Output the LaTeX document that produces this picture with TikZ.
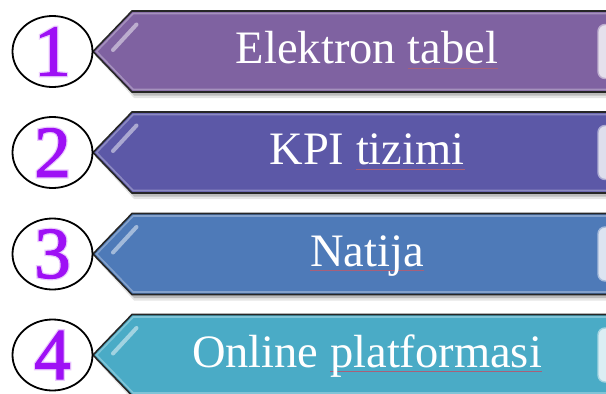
\documentclass[tikz,border=0pt]{standalone}
\usepackage{fontspec}
\setmainfont{Liberation Serif}
\newfontfamily\numfont[FakeBold=1.6]{Liberation Serif}
\newfontfamily\numglowfont[FakeBold=5]{Liberation Serif}
\usetikzlibrary{shapes.geometric}
\definecolor{bandA}{HTML}{7F62A1}
\definecolor{bandB}{HTML}{5C58A7}
\definecolor{bandC}{HTML}{4E7AB8}
\definecolor{bandD}{HTML}{4AABC6}
\definecolor{numc}{HTML}{9E10F5}
\definecolor{spellc}{HTML}{A8607A}
\newcommand\spellmark[1]{\setbox0\hbox{#1}\rlap{\color{spellc}\rule[-5pt]{\wd0}{0.9pt}}\box0}
\tikzset{
  numcirc/.style={ellipse, draw=black, line width=1.8pt, fill=white,
    minimum width=80pt, minimum height=71pt, inner sep=0pt},
  numtext/.style={text=numc, font=\numfont\fontsize{73}{73}\selectfont, inner sep=0pt},
  numglow/.style={text=numc!22!white, font=\numglowfont\fontsize{73}{73}\selectfont, inner sep=0pt},
  bantext/.style={text=white, font=\fontsize{46.5}{50}\selectfont, anchor=base, inner sep=0pt},
}
\begin{document}
\begin{tikzpicture}[x=1pt,y=-1pt]
\useasboundingbox (0,0) rectangle (606,394);
\clip (0,0) rectangle (606,394);
\fill[white] (0,0) rectangle (606,394);
\foreach \c/\col/\i/\txt in {51.5/bandA/1/{Elektron \spellmark{tabel}},
                             152.5/bandB/2/{KPI \spellmark{tizimi}},
                             254/bandC/3/{\spellmark{Natija}},
                             355/bandD/4/{Online \spellmark{platformasi}}}{
  % shadow
  \fill[black, opacity=0.10] (96,\c+5) -- (134,\c-36) -- (640,\c-36) -- (640,\c+46.5) -- (134,\c+46.5) -- cycle;
  \fill[black, opacity=0.18] (95,\c+3) -- (134,\c-37) -- (640,\c-37) -- (640,\c+44) -- (134,\c+44) -- cycle;
  % banner
  \fill[\col] (93,\c) -- (132,\c-40.5) -- (640,\c-40.5) -- (640,\c+40.5) -- (132,\c+40.5) -- cycle;
  \draw[\col!60!white, line width=1.6pt, opacity=0.75]
    (96.5,\c) -- (133.2,\c-38) -- (640,\c-38) -- (640,\c+38) -- (133.2,\c+38) -- cycle;
  \draw[black!85, line width=1.6pt, line join=miter]
    (93,\c) -- (132,\c-40.5) -- (640,\c-40.5) -- (640,\c+40.5) -- (132,\c+40.5) -- cycle;
  % gloss
  \draw[\col!40!white, line width=4pt, line cap=round, opacity=0.8] (113,\c-1.5) -- (136.5,\c-27);
  % right end
  \draw[\col!50!white, fill=\col!20!white, line width=1.4pt, rounded corners=7pt]
    (598,\c-27) rectangle (640,\c+27);
  % text
  \node[bantext] (t\i) at (367,\c+12) {\txt};
  % number
  \node[numcirc] (c\i) at (52.5,\c) {};
  \node[numglow] (g\i) at (c\i) {\i};
  \node[numtext] (n\i) at (c\i) {\i};
}
\end{tikzpicture}
\end{document}
